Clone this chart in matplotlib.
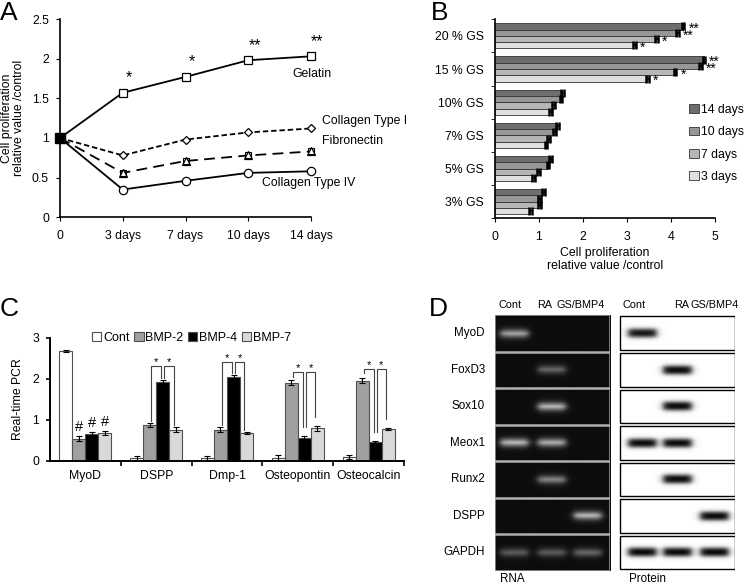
import numpy as np
import matplotlib.pyplot as plt
from matplotlib.patches import Rectangle

plt.rcParams['font.family'] = ['Liberation Sans', 'DejaVu Sans']
plt.rcParams['font.size'] = 8.8

W, H = 745, 584


def fx(p):
    return p / W


def fy(p):
    return 1 - p / H


# ---- A: proliferation on coatings
days = ["0", "3 days", "7 days", "10 days", "14 days"]
gelatin = [1.0, 1.57, 1.77, 1.98, 2.03]
collagen1 = [1.0, 0.78, 0.98, 1.07, 1.12]
fibronectin = [1.0, 0.56, 0.71, 0.78, 0.83]
collagen4 = [1.0, 0.35, 0.46, 0.56, 0.58]
stars_a = ["", "*", "*", "**", "**"]

# ---- B: GS concentration
gs_groups = ["3% GS", "5% GS", "7% GS", "10% GS", "15 % GS", "20 % GS"]
b14 = [1.11, 1.27, 1.42, 1.53, 4.74, 4.27]
b10 = [1.02, 1.21, 1.36, 1.50, 4.67, 4.14]
b7 = [1.02, 1.00, 1.22, 1.34, 4.09, 3.66]
b3 = [0.81, 0.88, 1.16, 1.27, 3.46, 3.17]
s14 = ["", "", "", "", "**", "**"]
s10 = ["", "", "", "", "**", "**"]
s7 = ["", "", "", "", "*", "*"]
s3 = ["", "", "", "", "*", "*"]

# ---- C: real-time PCR
genes = ["MyoD", "DSPP", "Dmp-1", "Osteopontin", "Osteocalcin"]
cont = [2.67, 0.07, 0.06, 0.07, 0.08]
bmp2 = [0.54, 0.87, 0.76, 1.90, 1.95]
bmp4 = [0.65, 1.91, 2.03, 0.56, 0.45]
bmp7 = [0.67, 0.76, 0.68, 0.79, 0.77]
cont_err = [0.02, 0.05, 0.05, 0.06, 0.05]
bmp2_err = [0.06, 0.04, 0.06, 0.06, 0.06]
bmp4_err = [0.04, 0.05, 0.07, 0.04, 0.04]
bmp7_err = [0.05, 0.06, 0.03, 0.06, 0.03]
hash_myod = ["", "#", "#", "#"]
bracket_h = [None, 2.31, 2.41, 2.16, 2.24]
bracket_gap = [0, 0.05, 0.05, 0.22, 0.22]

# ---- D: RT-PCR / western
markers = ["MyoD", "FoxD3", "Sox10", "Meox1", "Runx2", "DSPP", "GAPDH"]
lanes = ["Cont", "RA", "GS/BMP4"]
rna = [[0.75, 0, 0], [0, 0.45, 0], [0, 0.85, 0], [0.85, 0.8, 0],
       [0, 0.6, 0], [0, 0, 0.85], [0.4, 0.4, 0.45]]
protein = [[0.95, 0, 0], [0, 1, 0], [0, 1, 0], [1, 1, 0],
           [0, 1, 0], [0, 0, 1], [1, 1, 1]]

fig = plt.figure(figsize=(7.45, 5.84), dpi=100)

# ================= A
axA = fig.add_axes([fx(60), fy(217.3), fx(311) - fx(60), fy(19) - fy(217.3)])
x = np.arange(len(days))
axA.plot(x, gelatin, '-', color='black', lw=1.3, marker='s', ms=6,
         mfc='white', mec='black', mew=0.9, clip_on=False)
axA.plot(x, collagen1, color='black', lw=1.3, ls=(0, (3, 1.6)), marker='D',
         ms=4.5, mfc='white', mec='black', mew=0.9, clip_on=False)
axA.plot(x, fibronectin, color='black', lw=1.3, ls=(0, (6, 3.5)), marker='^',
         ms=6, mfc='white', mec='black', mew=0.9, clip_on=False)
axA.plot(x, fibronectin, 's', ms=4.5, mfc='none', mec='black', mew=0.8, clip_on=False)
axA.plot(x, collagen4, '-', color='black', lw=1.3, marker='o', ms=6,
         mfc='white', mec='black', mew=0.9, clip_on=False)
axA.plot(x[0], gelatin[0], 's', color='black', ms=7, clip_on=False, zorder=5)
for xi, v, s in zip(x, gelatin, stars_a):
    if s:
        axA.text(xi + 0.1, v + 0.19, s, ha='center', va='center', fontsize=11.5)
axA.text(3.70, 1.81, "Gelatin", va='center')
axA.text(4.17, 1.216, "Collagen Type I", va='center')
axA.text(4.17, 0.963, "Fibronectin", va='center')
axA.text(3.22, 0.433, "Collagen Type IV", va='center')
axA.set_xlim(0, 4)
axA.set_ylim(0, 2.5)
axA.set_xticks(x)
axA.set_xticklabels(days)
axA.set_yticks([0, 0.5, 1, 1.5, 2, 2.5])
axA.set_yticklabels(["0", "0.5", "1", "1.5", "2", "2.5"])
axA.tick_params(axis='x', length=3, pad=6)
axA.tick_params(axis='y', length=3, pad=5)
axA.set_ylabel("Cell proliferation\nrelative value /control", linespacing=1.0)
axA.yaxis.set_label_coords(-0.14, 0.5)
for sp in ['top', 'right']:
    axA.spines[sp].set_visible(False)
for sp in ['left', 'bottom']:
    axA.spines[sp].set_linewidth(1.2)

# ================= B
axB = fig.add_axes([fx(494.7), fy(218.3), fx(715.3) - fx(494.7), fy(19.3) - fy(218.3)])
yg = np.arange(len(gs_groups))
h = 0.19
series = [(b14, s14, '#6e6e6e', '14 days'), (b10, s10, '#979797', '10 days'),
          (b7, s7, '#b6b6b6', '7 days'), (b3, s3, '#e0e0e0', '3 days')]
offs = [1.5, 0.5, -0.5, -1.5]
for (vals, st, col, lab), o in zip(series, offs):
    yy = yg + o * h
    axB.barh(yy, vals, height=h, color=col, edgecolor='#333333', lw=0.6, label=lab)
    axB.errorbar(vals, yy, xerr=0.03, fmt='none', ecolor='black',
                 elinewidth=1.2, capsize=2.6, capthick=1.8)
    for v, y0, s in zip(vals, yy, st):
        if s:
            axB.text(v + 0.12, y0 - 0.08, s, ha='left', va='center', fontsize=10)
axB.set_xlim(0, 5)
axB.set_ylim(-0.5, 5.5)
axB.set_yticks(yg)
axB.set_yticklabels(gs_groups)
axB.set_yticks(np.arange(-0.5, 6, 1), minor=True)
axB.tick_params(axis='y', which='major', length=0, pad=8)
axB.tick_params(axis='y', which='minor', length=3)
axB.tick_params(axis='x', length=3, pad=6)
axB.set_xticks([0, 1, 2, 3, 4, 5])
axB.set_xlabel("Cell proliferation\nrelative value /control", linespacing=1.1, labelpad=3)
for sp in ['top', 'right']:
    axB.spines[sp].set_visible(False)
for sp in ['left', 'bottom']:
    axB.spines[sp].set_linewidth(1.2)
axB.legend(loc='upper left', bbox_to_anchor=(0.883, 0.575), frameon=False,
           handlelength=0.75, handleheight=0.75, handletextpad=0.2,
           labelspacing=0.85, borderpad=0, borderaxespad=0)

# ================= C
axC = fig.add_axes([fx(50), fy(460.7), fx(404) - fx(50), fy(337.7) - fy(460.7)])
xc = np.arange(len(genes)) + 0.5
w = 0.184
cseries = [(cont, cont_err, 'white', 'Cont'), (bmp2, bmp2_err, '#a0a0a0', 'BMP-2'),
           (bmp4, bmp4_err, 'black', 'BMP-4'), (bmp7, bmp7_err, '#d9d9d9', 'BMP-7')]
pos_all = []
for i, (vals, errs, col, lab) in enumerate(cseries):
    pos = xc + (i - 1.5) * w
    pos_all.append(pos)
    axC.bar(pos, vals, width=w, color=col, edgecolor='#505050', lw=0.8, label=lab,
            yerr=errs, capsize=2.5, error_kw=dict(elinewidth=0.8, capthick=0.8, ecolor='black'))
    if hash_myod[i]:
        axC.text(pos[0], vals[0] + errs[0] + 0.13, hash_myod[i], ha='center',
                 va='baseline', fontsize=10.5)

tops = [np.array(v) + np.array(e) for v, e, _, _ in cseries]
for g in range(1, len(genes)):
    Hb = bracket_h[g]
    gap = bracket_gap[g]
    for a, b, da, db in [(1, 2, 0.02, -0.02), (2, 3, 0.025, -0.03)]:
        xa = pos_all[a][g] + da
        xb = pos_all[b][g] + db
        ya = min(tops[a][g] + gap, Hb - 0.11)
        yb = min(tops[b][g] + gap, Hb - 0.11)
        axC.plot([xa, xa, xb, xb], [ya, Hb, Hb, yb], color='#444444', lw=0.8)
        axC.text((xa + xb) / 2, Hb + 0.03, "*", ha='center', va='baseline', fontsize=8)

axC.set_xlim(0, 5)
axC.set_ylim(0, 3)
axC.set_yticks([0, 1, 2, 3])
axC.set_xticks(xc)
axC.set_xticklabels(genes)
axC.set_xticks([1, 2, 3, 4, 5], minor=True)
axC.tick_params(axis='x', which='major', length=0, pad=7)
axC.tick_params(axis='x', which='minor', length=3.5, width=1.2)
axC.tick_params(axis='y', length=3, width=1.2, pad=5)
axC.set_ylabel("Real-time PCR", labelpad=6)
for sp in ['top', 'right']:
    axC.spines[sp].set_visible(False)
for sp in ['left', 'bottom']:
    axC.spines[sp].set_linewidth(1.4)
axC.legend(loc='center', bbox_to_anchor=(0.40, 1.0), ncol=4, frameon=False,
           handlelength=0.75, handleheight=0.75, handletextpad=0.15,
           columnspacing=0.35, borderpad=0, fontsize=9.0)

# ================= D
def band_image(levels, centers, hw, edge, hh, vedge, nx=300, ny=60):
    xs = np.linspace(0, 3, nx)
    ys = np.linspace(0, 1, ny)
    X, Y = np.meshgrid(xs, ys)
    img = np.zeros_like(X)
    for lv, c in zip(levels, centers):
        px = 1 / (1 + np.exp((np.abs(X - c) - hw) / edge))
        py = 1 / (1 + np.exp((np.abs(Y - 0.5) - hh) / vedge))
        img += lv * px * py
    return img


gel_bottom, gel_top = 570.7, 315
axR = fig.add_axes([fx(494.7), fy(gel_bottom), fx(609.7) - fx(494.7), fy(gel_top) - fy(gel_bottom)])
axP = fig.add_axes([fx(619.3), fy(gel_bottom), fx(735.3) - fx(619.3), fy(gel_top) - fy(gel_bottom)])
nrow = len(markers)
rna_centers = [0.5, 1.47, 2.4]
prot_centers = [0.58, 1.5, 2.47]
for r in range(nrow):
    y0 = nrow - 1 - r
    img = 0.05 + band_image(rna[r], rna_centers, 0.36, 0.05, 0.07, 0.05)
    axR.imshow(img, extent=[0, 3, y0, y0 + 1], cmap='gray', vmin=0, vmax=1,
               origin='lower', aspect='auto', interpolation='bilinear')
    img = 1 - band_image(protein[r], prot_centers, 0.37, 0.05, 0.12, 0.035)
    axP.imshow(img, extent=[0.02, 2.98, y0 + 0.04, y0 + 0.96], cmap='gray', vmin=0, vmax=1,
               origin='lower', aspect='auto', interpolation='bilinear')
    axP.add_patch(Rectangle((0.02, y0 + 0.04), 2.96, 0.92, fill=False, ec='black', lw=1.0))
    axR.text(-0.085, y0 + 0.5, markers[r], transform=axR.get_yaxis_transform(),
             ha='right', va='center', fontsize=8.4)
for yl in range(1, nrow):
    axR.axhline(yl, color='#b0b0b0', lw=1.8)
axR.add_patch(Rectangle((0, 0), 3, nrow, fill=False, ec='#909090', lw=1.2))
for ax in (axR, axP):
    ax.set_xlim(0, 3)
    ax.set_ylim(0, nrow)
    ax.axis('off')

for lab, xr, xp in zip(lanes, [0.133, 0.435, 0.75], [0.127, 0.54, 0.82]):
    axR.text(xr, 1.039, lab, transform=axR.transAxes, ha='center', va='center', fontsize=7.8)
    axP.text(xp, 1.039, lab, transform=axP.transAxes, ha='center', va='center', fontsize=7.8)
fig.text(fx(500), fy(578.5), "RNA", va='center', fontsize=8.4)
fig.text(fx(629), fy(578.5), "Protein", va='center', fontsize=8.4)

# panel letters
for lab, px, py in [("A", 0, 1), ("B", 431, 1), ("C", 0, 297), ("D", 429, 297)]:
    fig.text(fx(px), fy(py), lab, fontsize=19, va='top', ha='left')

fig.savefig("out.png", dpi=100)
